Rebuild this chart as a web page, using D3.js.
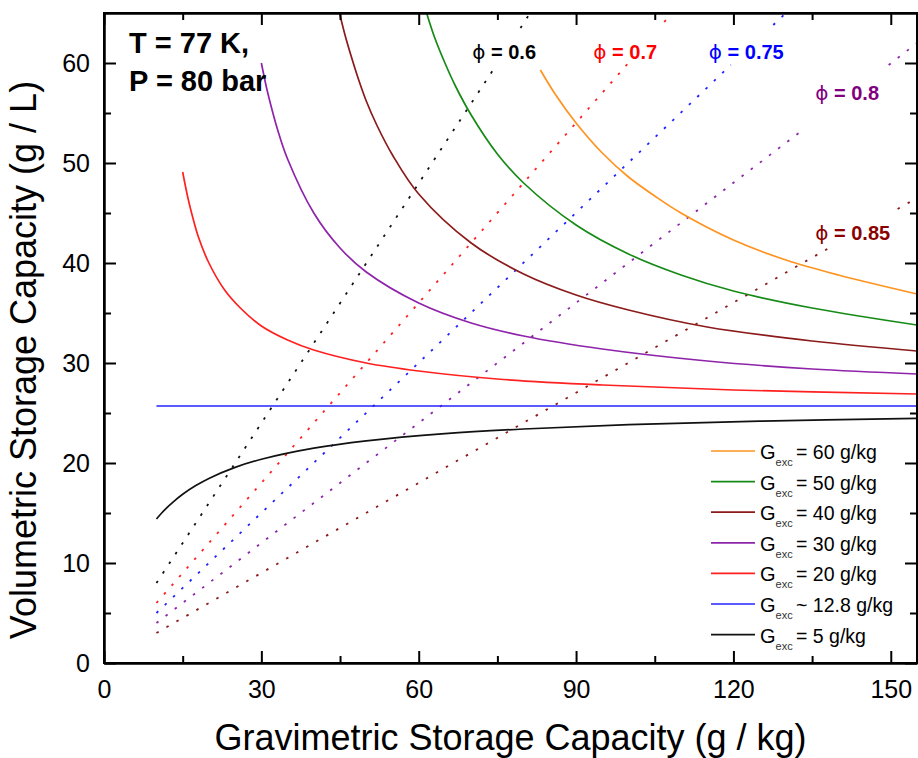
<!DOCTYPE html>
<html>
<head>
<meta charset="utf-8">
<script src="https://cdn.jsdelivr.net/npm/d3@7"></script>
<style>
  html, body { margin: 0; padding: 0; background: #fff; }
  svg { display: block; font-family: "Liberation Sans", Arial, sans-serif; }
  .axis path, .axis line { stroke: #000; stroke-width: 2; }
  .axis text { font-size: 25px; fill: #000; }
</style>
</head>
<body>
<svg id="chart"></svg>
<script>
const WIDTH = 918;
const HEIGHT = 758;
const M = { top: 13, right: 1, bottom: 95, left: 104 };

const xMajorTicks = [0, 30, 60, 90, 120, 150];
const xMinorTicks = [15, 45, 75, 105, 135];
const yMajorTicks = [0, 10, 20, 30, 40, 50, 60];
const yMinorTicks = [5, 15, 25, 35, 45, 55];

// excess uptake curves, [gravimetric g/kg, volumetric g/L]
const g60 = [[83.2, 59.3], [86, 56.9], [90, 54.0], [95, 51.0], [100, 48.6], [105, 46.7], [110, 45.0], [120, 42.3], [130, 40.3], [140, 38.8], [155, 36.9]];
const g50 = [[61.5, 65.0], [63, 62.6], [65, 60.0], [67, 57.7], [70, 54.8], [75, 50.9], [80, 48.0], [90, 43.8], [100, 40.9], [110, 38.8], [120, 37.2], [135, 35.5], [155, 33.8]];
const g40 = [[44.9, 65.0], [46, 62.7], [47, 60.9], [48.5, 58.4], [50, 56.2], [52, 53.8], [55, 50.8], [60, 46.9], [70, 42.0], [80, 38.9], [90, 36.8], [100, 35.3], [115, 33.6], [135, 32.2], [155, 31.2]];
const g30 = [[30, 60.0], [31, 57.5], [32, 55.4], [33, 53.5], [35, 50.4], [40, 45.0], [45, 41.5], [50, 39.1], [60, 36.0], [70, 34.0], [80, 32.7], [95, 31.4], [115, 30.2], [135, 29.4], [155, 28.9]];
const g20 = [[15, 49.1], [16, 46.5], [17, 44.4], [18, 42.6], [20, 40.0], [23, 37.3], [26, 35.5], [30, 33.7], [35, 32.3], [40, 31.3], [50, 30.0], [60, 29.2], [75, 28.4], [95, 27.8], [120, 27.3], [155, 26.9]];
const g128 = [[10, 25.7], [155, 25.7]];
const g5 = [[10, 14.40], [11, 15.0], [12, 15.54], [13, 16.02], [15, 16.87], [17.5, 17.74], [20, 18.46], [25, 19.56], [30, 20.37], [40, 21.48], [50, 22.21], [65, 22.93], [80, 23.40], [100, 23.83], [125, 24.18], [155, 24.46]];

const curveLabels = ['= 60 g/kg', '= 50 g/kg', '= 40 g/kg', '= 30 g/kg', '= 20 g/kg', '~ 12.8 g/kg', '= 5 g/kg'];
const curveColors = ['#ff9320', '#168a16', '#8b1a1a', '#8e24aa', '#ff2020', '#2323ff', '#111'];
const curves = [g60, g50, g40, g30, g20, g128, g5];

// packing fraction lines (null = break behind the label)
const phi060 = [[10, 8.0], [74.3, 59.4], null, [79.4, 63.5], [81.0, 64.8]];
const phi070 = [[10, 6.0], [99.8, 59.9], null, [106.8, 64.1], [108.5, 65.1]];
const phi075 = [[10, 5.0], [119.5, 59.8], null, [127.6, 63.8], [130, 65.0]];
const phi080 = [[10, 4.0], [132.7, 53.1], null, [149.6, 59.8], [155, 62.0]];
const phi085 = [[10, 3.0], [138.2, 41.5], null, [151.3, 45.4], [155, 46.5]];
const phiLabels = ['0.6', '0.7', '0.75', '0.8', '0.85'];
const phiLines = [phi060, phi070, phi075, phi080, phi085];
const phiColors = ['#111', '#ff2020', '#2323ff', '#8e24aa', '#8b1a1a'];
const phiTextColors = ['#000', '#ff0000', '#0000ff', '#800080', '#8b0000'];
const phiLabelPos = [[70.2, 60.4], [93.3, 60.4], [115.3, 60.4], [135.6, 56.3], [135.6, 42.3]];

const svg = d3.select('#chart')
  .attr('width', WIDTH)
  .attr('height', HEIGHT);

const x = d3.scaleLinear().domain([0, 155]).range([M.left, WIDTH - M.right]);
const y = d3.scaleLinear().domain([0, 65]).range([HEIGHT - M.bottom, M.top]);

svg.append('defs').append('clipPath').attr('id', 'plot-clip')
  .append('rect')
  .attr('x', x(0)).attr('y', y(65))
  .attr('width', x(155) - x(0)).attr('height', y(0) - y(65));

const line = d3.line()
  .defined(d => d)
  .x(d => x(d[0]))
  .y(d => y(d[1]));

const plot = svg.append('g').attr('clip-path', 'url(#plot-clip)');

plot.selectAll('path.phi')
  .data(phiLines)
  .enter()
  .append('path')
  .attr('class', 'phi')
  .attr('d', d => line(d))
  .attr('fill', 'none')
  .attr('stroke', (d, i) => phiColors[i])
  .attr('stroke-width', 1.8)
  .attr('stroke-dasharray', '2.5 9');

const smooth = d3.line()
  .x(d => x(d[0]))
  .y(d => y(d[1]))
  .curve(d3.curveCatmullRom.alpha(0.5));

plot.selectAll('path.curve')
  .data(curves)
  .enter()
  .append('path')
  .attr('class', 'curve')
  .attr('d', d => smooth(d))
  .attr('fill', 'none')
  .attr('stroke', (d, i) => curveColors[i])
  .attr('stroke-width', 1.7);

// axes with inward ticks on all four sides
svg.append('g').attr('class', 'axis')
  .attr('transform', `translate(0,${y(0)})`)
  .call(d3.axisBottom(x).tickValues(xMajorTicks).tickSize(-12).tickPadding(17).tickSizeOuter(0));
svg.append('g').attr('class', 'axis')
  .attr('transform', `translate(0,${y(0)})`)
  .call(d3.axisBottom(x).tickValues(xMinorTicks).tickSize(-7).tickFormat('').tickSizeOuter(0));
svg.append('g').attr('class', 'axis')
  .attr('transform', `translate(0,${y(65)})`)
  .call(d3.axisTop(x).tickValues(xMajorTicks).tickSize(-12).tickFormat('').tickSizeOuter(0));
svg.append('g').attr('class', 'axis')
  .attr('transform', `translate(0,${y(65)})`)
  .call(d3.axisTop(x).tickValues(xMinorTicks).tickSize(-7).tickFormat('').tickSizeOuter(0));

svg.append('g').attr('class', 'axis')
  .attr('transform', `translate(${x(0)},0)`)
  .call(d3.axisLeft(y).tickValues(yMajorTicks).tickSize(-12).tickPadding(14).tickSizeOuter(0));
svg.append('g').attr('class', 'axis')
  .attr('transform', `translate(${x(0)},0)`)
  .call(d3.axisLeft(y).tickValues(yMinorTicks).tickSize(-7).tickFormat('').tickSizeOuter(0));
svg.append('g').attr('class', 'axis')
  .attr('transform', `translate(${x(155)},0)`)
  .call(d3.axisRight(y).tickValues(yMajorTicks).tickSize(-12).tickFormat('').tickSizeOuter(0));
svg.append('g').attr('class', 'axis')
  .attr('transform', `translate(${x(155)},0)`)
  .call(d3.axisRight(y).tickValues(yMinorTicks).tickSize(-7).tickFormat('').tickSizeOuter(0));

svg.append('rect')
  .attr('x', x(0)).attr('y', y(65))
  .attr('width', x(155) - x(0)).attr('height', y(0) - y(65))
  .attr('fill', 'none').attr('stroke', '#000').attr('stroke-width', 2);

// axis titles
svg.append('text')
  .attr('x', (x(0) + x(155)) / 2)
  .attr('y', 750)
  .attr('text-anchor', 'middle')
  .attr('font-size', 36)
  .text('Gravimetric Storage Capacity (g / kg)');

svg.append('text')
  .attr('transform', 'translate(36,360) rotate(-90)')
  .attr('text-anchor', 'middle')
  .attr('font-size', 36)
  .text('Volumetric Storage Capacity (g / L)');

// conditions
const cond = svg.append('text')
  .attr('font-size', 29)
  .attr('font-weight', 'bold');
cond.append('tspan').attr('x', 129).attr('y', 53).text('T = 77 K,');
cond.append('tspan').attr('x', 129).attr('y', 91).text('P = 80 bar');

// phi labels
const phiText = svg.selectAll('text.phi-label')
  .data(phiLabels)
  .enter()
  .append('text')
  .attr('class', 'phi-label')
  .attr('x', (d, i) => x(phiLabelPos[i][0]))
  .attr('y', (d, i) => y(phiLabelPos[i][1]))
  .attr('fill', (d, i) => phiTextColors[i])
  .attr('font-size', 20)
  .attr('font-weight', 'bold');
phiText.append('tspan').attr('font-family', 'DejaVu Sans').attr('font-weight', 'normal').text('\u03D5');
phiText.append('tspan').text(d => ' = ' + d);

// legend
const legend = svg.append('g')
  .attr('transform', 'translate(711,451)');
const items = legend.selectAll('g')
  .data(curveLabels)
  .enter()
  .append('g')
  .attr('transform', (d, i) => `translate(0,${i * 30.6})`);
items.append('line')
  .attr('x1', 0).attr('x2', 44)
  .attr('stroke', (d, i) => curveColors[i])
  .attr('stroke-width', 1.7);
const lt = items.append('text')
  .attr('x', 49)
  .attr('y', 8)
  .attr('font-size', 20);
lt.append('tspan').text('G');
lt.append('tspan').attr('font-size', 11).attr('dy', 7).attr('fill', '#333').text('exc');
lt.append('tspan').attr('dy', -7).attr('x', 85).attr('font-size', 19.5).text(d => d);
</script>
</body>
</html>
